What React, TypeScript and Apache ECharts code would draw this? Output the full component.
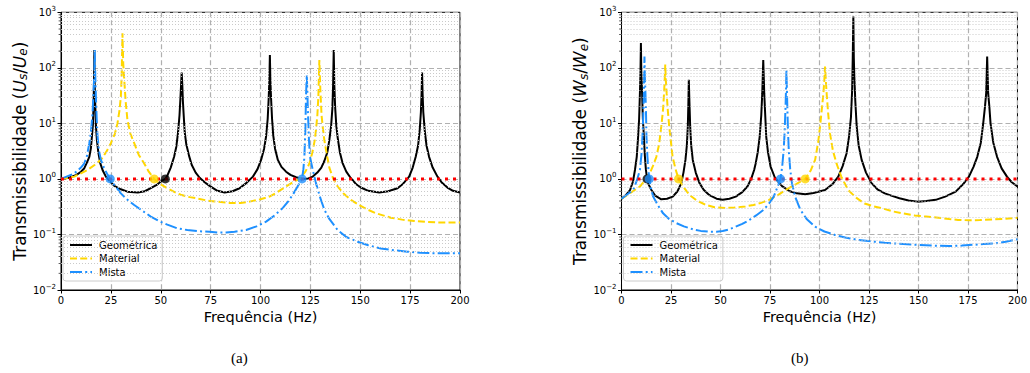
import React, { useEffect, useRef } from "react";
import * as echarts from "echarts";

// ---------- data ----------
const xTicks = [0, 25, 50, 75, 100, 125, 150, 175, 200];
const yDecades = [0.01, 0.1, 1, 10, 100, 1000];
const minorFactors = [2, 3, 4, 5, 6, 7, 8, 9];
const seriesNames = ["Geométrica", "Material", "Mista"];
const captions = ["(a)", "(b)"];

// (a) Us/Ue
const geoA: [number, number][] = [
  [0, 1.0], [4, 1.05], [7.8, 1.18], [10, 1.35], [11.7, 1.56], [12.8, 1.9], [14.2, 2.5], [15, 3.6], [15.5, 5.8], [16, 9.5],
  [16.3, 20], [16.55, 60], [16.7, 210], [16.85, 60], [17.2, 20], [17.5, 9], [18, 5], [18.7, 3], [19.7, 1.9], [21, 1.4],
  [22.5, 1.1], [24, 0.95], [26.7, 0.75], [30, 0.65], [33.3, 0.59], [38.5, 0.57], [42, 0.6], [45, 0.68], [48, 0.78], [50, 0.9],
  [52.3, 1.0], [53.3, 1.15], [55, 1.6], [56.7, 2.5], [57.8, 3.8], [58.7, 7], [59.4, 14], [59.9, 30], [60.2, 50], [60.5, 82],
  [60.8, 50], [61.1, 25], [61.5, 14], [62, 7], [62.8, 4.2], [64.2, 2.6], [65.5, 1.8], [67.5, 1.3], [69.5, 1.05], [72, 0.87],
  [74.5, 0.75], [78, 0.62], [82, 0.57], [86, 0.6], [89.5, 0.68], [93, 0.85], [96.2, 1.1], [98.5, 1.5], [100.3, 2.2], [101.8, 3.5],
  [102.8, 5.8], [103.6, 12], [104.1, 28], [104.45, 60], [104.7, 171], [104.95, 60], [105.3, 28], [105.8, 12], [106.4, 6], [107.3, 3.5],
  [108.7, 2.2], [110.5, 1.65], [112.8, 1.35], [115, 1.18], [117.8, 1.07], [121, 1.0], [124, 1.02], [126.2, 1.1], [128.5, 1.3], [130.5, 1.6],
  [132, 2.1], [133.5, 3], [134.5, 5], [135.4, 9], [136, 18], [136.4, 50], [136.7, 210], [137, 50], [137.4, 20], [138, 9],
  [138.7, 5.5], [139.8, 3], [141.2, 1.9], [143, 1.35], [145.3, 1.03], [148, 0.8], [150.3, 0.7], [154, 0.61], [159.5, 0.57], [164, 0.6],
  [168.7, 0.68], [171.5, 0.82], [174.5, 1.1], [176.3, 1.6], [177.8, 2.5], [179, 4], [179.8, 7.6], [180.4, 16], [180.75, 35], [181, 82],
  [181.25, 35], [181.6, 16], [182.3, 7.6], [183.2, 4], [184.5, 2.5], [186.3, 1.6], [188.7, 1.1], [191, 0.85], [193.7, 0.7], [196.5, 0.61],
  [200, 0.57],
];
const matA: [number, number][] = [
  [0, 1.0], [6.7, 1.1], [13.3, 1.45], [17, 1.8], [20, 2.2], [23, 3.2], [25, 4.4], [27, 6.5], [28.3, 10], [29.3, 17],
  [30, 30], [30.4, 70], [30.8, 420], [31.2, 120], [31.7, 61], [32.4, 25], [33.3, 11.5], [34.8, 6.5], [36.7, 4.4], [39, 2.7],
  [41.7, 1.9], [44, 1.35], [46.7, 1.0], [50, 0.8], [53.3, 0.68], [57, 0.58], [60, 0.52], [64.5, 0.47], [67.5, 0.45], [74.5, 0.4],
  [84.5, 0.37], [90, 0.37], [94.5, 0.39], [100, 0.43], [104.5, 0.48], [108.5, 0.58], [112.8, 0.73], [116.5, 0.88], [119.5, 1.0], [122.5, 1.35],
  [124.5, 1.9], [126, 3], [127.2, 5], [127.8, 7.6], [128.5, 14], [129, 30], [129.5, 138], [130, 40], [130.6, 14], [131.3, 8],
  [132, 5], [133.2, 2.8], [134.5, 1.6], [136.5, 1.0], [138.7, 0.73], [141.5, 0.55], [145.3, 0.42], [150, 0.33], [153.7, 0.28], [158, 0.24],
  [165.3, 0.2], [171, 0.185], [177, 0.175], [183, 0.168], [188.7, 0.165], [195, 0.165], [200, 0.165],
];
const mixA: [number, number][] = [
  [0, 1.0], [6.7, 1.26], [10, 1.6], [11.7, 1.9], [13, 2.6], [14.2, 4.4], [15, 7], [15.8, 15], [16.3, 35], [16.7, 80],
  [16.9, 210], [17.2, 70], [17.5, 30], [17.9, 12], [18.3, 6], [19, 3.3], [20, 2.2], [21.5, 1.6], [23, 1.25], [24.7, 1.0],
  [27, 0.76], [30, 0.55], [33, 0.43], [36.7, 0.34], [40, 0.28], [45, 0.21], [49, 0.175], [53.3, 0.15], [58, 0.13], [63.3, 0.12],
  [69, 0.114], [74.5, 0.112], [79, 0.108], [82.8, 0.108], [87, 0.112], [92.8, 0.12], [98, 0.14], [102.8, 0.17], [107, 0.22], [111.2, 0.3],
  [114, 0.4], [116.2, 0.52], [118.5, 0.72], [120.8, 1.0], [121.5, 1.5], [122, 2.5], [122.5, 8], [122.8, 30], [123.2, 75], [123.5, 35],
  [123.8, 15], [124.3, 5], [124.8, 2.5], [126.2, 1.45], [127.8, 0.84], [130, 0.45], [132, 0.28], [134.5, 0.19], [138.7, 0.12], [143, 0.09],
  [148.7, 0.074], [154, 0.064], [160.3, 0.056], [167, 0.052], [173.7, 0.049], [180, 0.047], [187, 0.046], [193, 0.046], [200, 0.046],
];

// (b) Ws/We
const geoB: [number, number][] = [
  [0, 0.44], [2, 0.5], [4.3, 0.63], [5.8, 0.9], [6.8, 1.45], [7.7, 2.5], [8.4, 5.8], [8.9, 12], [9.3, 35], [9.6, 90],
  [9.8, 280], [10.0, 90], [10.4, 35], [10.8, 12], [11.3, 5.8], [11.8, 2.6], [12.3, 1.5], [12.9, 1.0], [13.8, 0.78], [15.1, 0.63],
  [17, 0.5], [20.1, 0.43], [23, 0.44], [25.9, 0.48], [28.3, 0.6], [30.2, 0.84], [31.3, 1.3], [32.3, 2.2], [33, 4], [33.5, 8.8],
  [33.8, 25], [34, 61], [34.3, 25], [34.7, 8.8], [35.2, 4], [36, 2.2], [37.5, 1.3], [39.4, 0.84], [41.5, 0.64], [44.4, 0.51],
  [48, 0.44], [51.1, 0.42], [54.5, 0.44], [57.7, 0.48], [61, 0.58], [63.6, 0.73], [65.5, 1.0], [67, 1.45], [67.8, 1.92], [68.8, 3],
  [69.8, 5.8], [70.6, 14], [71.1, 35], [71.35, 70], [71.6, 138], [71.85, 70], [72.1, 35], [72.6, 14], [73.1, 5.8], [74, 3],
  [75.3, 1.67], [77.5, 1.05], [81.1, 0.74], [85, 0.6], [88.5, 0.55], [92.8, 0.53], [97, 0.56], [102.8, 0.63], [106.5, 0.8], [109.5, 1.1],
  [111.7, 1.7], [113.7, 2.9], [115, 6], [115.9, 13], [116.5, 40], [116.8, 150], [117.1, 840], [117.35, 150], [117.6, 70], [118.1, 25],
  [118.8, 8.8], [119.8, 4], [121.3, 2.2], [123.5, 1.3], [126.3, 0.84], [129.5, 0.64], [133, 0.55], [137, 0.49], [140.4, 0.45], [145, 0.41],
  [149.6, 0.39], [154, 0.4], [158.7, 0.42], [163.5, 0.48], [168.8, 0.59], [172.5, 0.8], [175.5, 1.1], [177.8, 1.65], [179.7, 2.5], [181.5, 4.5],
  [182.7, 10], [183.6, 20], [184.2, 35], [184.7, 160], [185.2, 35], [185.8, 20], [186.4, 10], [187.8, 4.5], [189.7, 2.5], [192, 1.55],
  [194.7, 1.1], [197, 0.88], [200, 0.73],
];
const matB: [number, number][] = [
  [0, 0.44], [4.5, 0.56], [9.3, 0.73], [12, 0.95], [14.3, 1.27], [16, 1.75], [17.6, 2.5], [19, 4.2], [20.1, 8.8], [21, 18],
  [21.5, 35], [21.9, 70], [22.1, 115], [22.4, 60], [22.8, 35], [23.4, 17], [24.1, 8.8], [25, 4.5], [25.8, 2.5], [27.3, 1.5],
  [28.8, 1.0], [31.5, 0.7], [34.2, 0.52], [38, 0.41], [42.6, 0.34], [47, 0.31], [52.6, 0.3], [57, 0.305], [62.6, 0.32], [66.7, 0.34],
  [70.5, 0.37], [74.5, 0.42], [79, 0.51], [82.8, 0.63], [88, 0.8], [92.8, 1.0], [95.5, 1.4], [97.8, 2.2], [99.3, 4.5], [100.3, 8.8],
  [101.3, 20], [102, 35], [102.5, 65], [102.8, 105], [103.2, 60], [103.6, 35], [104.4, 15], [105.3, 6.6], [106.8, 3.2], [108.6, 1.9],
  [111, 1.1], [114.5, 0.63], [118.5, 0.46], [122.8, 0.36], [127.5, 0.32], [132.5, 0.29], [137, 0.26], [142.1, 0.24], [148, 0.22], [153.8, 0.21],
  [160, 0.2], [165.5, 0.19], [170, 0.183], [175.5, 0.18], [181, 0.182], [187.2, 0.186], [193, 0.19], [200, 0.2],
];
const mixB: [number, number][] = [
  [0, 0.44], [3, 0.53], [5.9, 0.63], [7.8, 0.95], [9.3, 1.45], [10.1, 2.8], [10.6, 5.8], [11, 14], [11.3, 35], [11.45, 80],
  [11.6, 160], [11.8, 70], [12.1, 35], [12.4, 14], [12.6, 5.8], [13.1, 2.5], [14, 1.0], [15, 0.65], [16, 0.48], [18.5, 0.33],
  [21, 0.24], [24, 0.19], [27.7, 0.16], [31.5, 0.14], [36, 0.124], [40, 0.116], [44.4, 0.112], [48, 0.112], [51.1, 0.115], [54.5, 0.124],
  [57.7, 0.138], [61, 0.155], [64.4, 0.18], [68, 0.22], [71.9, 0.28], [74.5, 0.36], [76.9, 0.48], [78.7, 0.7], [80.3, 1.0], [81.2, 1.7],
  [81.9, 3.3], [82.4, 7], [82.8, 17.5], [83.1, 40], [83.3, 92], [83.55, 40], [83.8, 17.5], [84.1, 7], [84.5, 3.3], [85.2, 1.5],
  [86.1, 0.84], [87.7, 0.48], [90.3, 0.28], [93.5, 0.19], [97.8, 0.138], [102.5, 0.113], [107.8, 0.098], [113, 0.088], [119.5, 0.08], [126, 0.075],
  [133, 0.071], [140, 0.068], [148.8, 0.065], [157, 0.063], [165.5, 0.062], [172, 0.063], [177.2, 0.065], [183, 0.067], [188.9, 0.069], [194, 0.074],
  [200, 0.082],
];

// unity reference line and crossing markers
const unityLine: [number, number][] = [[0, 1], [200, 1]];
const crossGeoA: [number, number][] = [[52.3, 1]];
const crossMatA: [number, number][] = [[46.7, 1]];
const crossMixA: [number, number][] = [[24.7, 1], [120.8, 1]];
const crossGeoB: [number, number][] = [[12.9, 1]];
const crossMatB: [number, number][] = [[28.8, 1], [92.8, 1]];
const crossMixB: [number, number][] = [[14.0, 1], [80.3, 1]];

// ---------- styles ----------
const FONT = "DejaVu Sans";
const C_GEO = "#000000";
const C_MAT = "#FFD700";
const C_MIX = "#1E90FF";
const C_RED = "#FF0000";

export default function App() {
  const ref = useRef<HTMLDivElement>(null);

  useEffect(() => {
    if (!ref.current) return;
    const chart = echarts.init(ref.current, null, { renderer: "svg" });

    const minorValues: number[] = [];
    yDecades.slice(0, -1).forEach((d) => minorFactors.forEach((f) => minorValues.push(+(d * f).toPrecision(3))));

    const gridLefts = [61, 621.5];
    const yNames = [
      "Transmissibilidade ({i|U}{sub|s}/{i|U}{sub|e})",
      "Transmissibilidade ({i|W}{sub|s}/{i|W}{sub|e})",
    ];
    const plots = [
      { geo: geoA, mat: matA, mix: mixA, cg: crossGeoA, cm: crossMatA, cx: crossMixA },
      { geo: geoB, mat: matB, mix: mixB, cg: crossGeoB, cm: crossMatB, cx: crossMixB },
    ];

    const grids = gridLefts.map((left) => ({
      left,
      top: 12.3,
      width: 399,
      height: 277.7,
      show: true,
      borderColor: "#000",
      borderWidth: 1,
      backgroundColor: "transparent",
    }));

    const xAxes = gridLefts.map((_, i) => ({
      type: "value",
      gridIndex: i,
      min: xTicks[0],
      max: xTicks[xTicks.length - 1],
      interval: 25,
      name: "Frequência (Hz)",
      nameLocation: "middle",
      nameGap: 18,
      nameTextStyle: { fontFamily: FONT, fontSize: 14.5, color: "#000" },
      axisLine: { show: true, lineStyle: { color: "#000", width: 1 } },
      axisTick: { show: true, inside: false, length: 3.5, lineStyle: { color: "#000" } },
      axisLabel: { margin: 5, fontFamily: FONT, fontSize: 10, color: "#000" },
      splitLine: { show: true, lineStyle: { color: "#b0b0b0", width: 1.2, type: [5, 3] } },
    }));

    const yAxes = gridLefts.map((_, i) => ({
      type: "log",
      logBase: 10,
      gridIndex: i,
      min: yDecades[0],
      max: yDecades[yDecades.length - 1],
      name: yNames[i],
      nameLocation: "middle",
      nameRotate: 90,
      nameGap: 31,
      nameTextStyle: {
        fontFamily: FONT,
        fontSize: 17,
        color: "#000",
        rich: {
          i: { fontFamily: FONT, fontSize: 17, fontStyle: "italic", color: "#000" },
          sub: { fontFamily: FONT, fontSize: 12, fontStyle: "italic", color: "#000", padding: [7, 0, 0, 0] },
        },
      },
      axisLine: { show: true, lineStyle: { color: "#000", width: 1 } },
      axisTick: { show: true, inside: false, length: 3.5, lineStyle: { color: "#000" } },
      axisLabel: {
        margin: 5,
        color: "#000",
        formatter: (v: number) => {
          const e = Math.round(Math.log10(v));
          return `{b|10}{s|${e < 0 ? "\u2212" + -e : e}}`;
        },
        rich: {
          b: { fontFamily: FONT, fontSize: 10, color: "#000" },
          s: { fontFamily: FONT, fontSize: 7, color: "#000", padding: [0, 0, 7, 0] },
        },
      },
      splitLine: { show: true, lineStyle: { color: "#b0b0b0", width: 1.2, type: [5, 3] } },
    }));

    const series: any[] = [];
    plots.forEach((p, i) => {
      const ax = { xAxisIndex: i, yAxisIndex: i };
      // minor grid lines + minor ticks (positions from the log axis)
      series.push({
        ...ax,
        type: "line",
        name: "minor" + i,
        data: [[0, 1]],
        symbol: "none",
        lineStyle: { opacity: 0 },
        silent: true,
        z: 1,
        markLine: {
          silent: true,
          symbol: ["none", "none"],
          label: { show: false },
          lineStyle: { type: [1, 2], color: "#c4c4c4", width: 0.9 },
          data: minorValues.map((v) => ({ yAxis: v })),
        },
      });
      series.push({
        ...ax,
        type: "scatter",
        name: "minorTicks" + i,
        data: minorValues.map((v) => [0, v]),
        symbol: "rect",
        symbolSize: [2.2, 0.8],
        symbolOffset: [-1.3, 0],
        itemStyle: { color: "#000" },
        clip: false,
        silent: true,
        z: 6,
      });
      series.push({
        ...ax,
        type: "line",
        name: seriesNames[0],
        data: p.geo,
        symbol: "none",
        showSymbol: false,
        lineStyle: { color: C_GEO, width: 2, type: "solid" },
        itemStyle: { color: C_GEO },
        z: 2,
      });
      series.push({
        ...ax,
        type: "line",
        name: seriesNames[1],
        data: p.mat,
        symbol: "none",
        showSymbol: false,
        lineStyle: { color: C_MAT, width: 2, type: [7, 3.2] },
        itemStyle: { color: C_MAT },
        z: 3,
      });
      series.push({
        ...ax,
        type: "line",
        name: seriesNames[2],
        data: p.mix,
        symbol: "none",
        showSymbol: false,
        lineStyle: { color: C_MIX, width: 2, type: [12, 3.2, 2, 3.2] },
        itemStyle: { color: C_MIX },
        z: 4,
      });
      series.push({
        ...ax,
        type: "line",
        name: "unity" + i,
        data: unityLine,
        symbol: "none",
        lineStyle: { color: C_RED, width: 3, type: [3, 5] },
        z: 5,
        silent: true,
      });
      [
        [p.cg, C_GEO],
        [p.cm, C_MAT],
        [p.cx, C_MIX],
      ].forEach(([d, c], k) => {
        series.push({
          ...ax,
          type: "scatter",
          name: "cross" + i + "_" + k,
          data: d,
          symbol: "circle",
          symbolSize: 9,
          itemStyle: { color: c },
          z: 7 + k,
          silent: true,
        });
      });
    });

    const legends = gridLefts.map((left) => ({
      data: seriesNames,
      orient: "vertical",
      left: left + 2,
      top: 236,
      itemWidth: 22,
      itemHeight: 11,
      itemGap: 3.5,
      padding: [4, 5, 4, 6],
      backgroundColor: "rgba(255,255,255,0.85)",
      borderColor: "#cccccc",
      borderWidth: 1,
      borderRadius: 3,
      selectedMode: false,
      itemStyle: { color: "transparent", borderColor: "transparent", borderWidth: 0 },
      textStyle: { fontFamily: FONT, fontSize: 10, color: "#000", padding: [0, 0, 0, 2] },
    }));

    chart.setOption({
      animation: false,
      backgroundColor: "#ffffff",
      grid: grids,
      xAxis: xAxes,
      yAxis: yAxes,
      legend: legends,
      series,
      graphic: [
        {
          type: "text",
          left: 231,
          top: 350,
          style: { text: captions[0], fontFamily: "Liberation Serif", fontSize: 15, fill: "#000" },
        },
        {
          type: "text",
          left: 791,
          top: 350,
          style: { text: captions[1], fontFamily: "Liberation Serif", fontSize: 15, fill: "#000" },
        },
      ],
    });

    return () => chart.dispose();
  }, []);

  return <div ref={ref} style={{ position: "absolute", left: 0, top: 0, width: 1030, height: 373 }} />;
}
